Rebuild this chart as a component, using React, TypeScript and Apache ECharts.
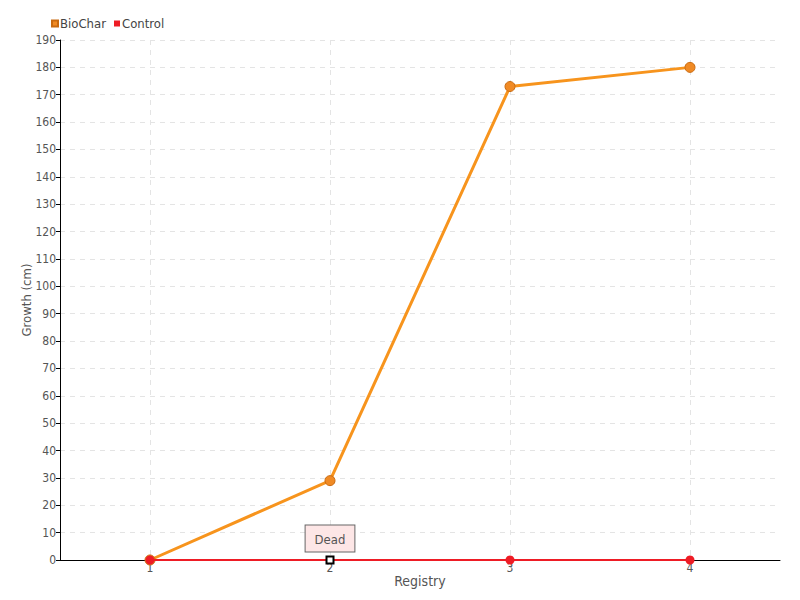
import React, { useEffect, useRef } from "react";
import * as echarts from "echarts";

const categories = ["1", "2", "3", "4"];
const bioCharValues = [0, 29, 173, 180];
const controlValues = [0, 0, 0, 0];
const seriesNames = ["BioChar", "Control"];
const deadIndex = 1;
const deadLabel = "Dead";

const FONT = "'DejaVu Sans Condensed', 'Liberation Sans Narrow', 'Roboto', sans-serif";

export default function App() {
  const ref = useRef<HTMLDivElement>(null);
  useEffect(() => {
    document.body.style.margin = "0";
    const chart = echarts.init(ref.current!, null, { renderer: "svg" });
    const controlData = controlValues.map((v, i) =>
      i === deadIndex
        ? {
            value: v,
            symbol: "rect",
            symbolSize: 7,
            itemStyle: { color: "#ffffff", borderColor: "#000000", borderWidth: 2 },
            label: {
              show: true,
              position: "top",
              distance: 4,
              formatter: deadLabel,
              color: "#555",
              fontSize: 13,
              fontFamily: FONT,
              backgroundColor: "#fde6e6",
              borderColor: "#666",
              borderWidth: 1,
              padding: [7, 9, 6, 9],
            },
          }
        : v
    );
    chart.setOption({
      animation: false,
      textStyle: { fontFamily: FONT },
      legend: {
        left: 46,
        top: 12,
        icon: "rect",
        itemWidth: 6,
        itemHeight: 6,
        itemGap: 8,
        textStyle: { fontSize: 13, color: "#444", fontFamily: FONT, padding: [0, 0, 0, -3] },
        data: seriesNames,
      },
      grid: { left: 60, right: 20, top: 40, bottom: 40, containLabel: false },
      xAxis: {
        type: "category",
        data: categories,
        boundaryGap: true,
        name: "Registry",
        nameLocation: "middle",
        nameGap: 14,
        nameMoveOverlap: false,
        nameTextStyle: { fontSize: 14, color: "#555", fontFamily: FONT },
        axisLine: { lineStyle: { color: "#000", width: 1 } },
        axisTick: { alignWithLabel: true, length: 5, lineStyle: { color: "#666" } },
        axisLabel: { margin: 2, fontSize: 12, color: "#555", fontFamily: FONT },
        splitLine: {
          show: true,
          alignWithLabel: true,
          lineStyle: { color: "#e4e4e4", type: [5, 5] },
        },
      },
      yAxis: {
        type: "value",
        min: 0,
        max: 190,
        interval: 10,
        name: "Growth (cm)",
        nameLocation: "middle",
        nameGap: 27,
        nameMoveOverlap: false,
        nameTextStyle: { fontSize: 13, color: "#555", fontFamily: FONT },
        axisLine: { show: true, lineStyle: { color: "#000", width: 1 } },
        axisTick: { show: true, length: 4, lineStyle: { color: "#000" } },
        axisLabel: { margin: 4, fontSize: 12, color: "#555", fontFamily: FONT },
        splitLine: { show: true, lineStyle: { color: "#e4e4e4", type: [5, 5] } },
      },
      series: [
        {
          name: seriesNames[0],
          type: "line",
          data: bioCharValues,
          symbol: "circle",
          symbolSize: 10,
          color: "#F7941D",
          lineStyle: { color: "#F7941D", width: 3 },
          itemStyle: { color: "#F08A24", borderColor: "#C96A10", borderWidth: 1 },
          z: 2,
        },
        {
          name: seriesNames[1],
          type: "line",
          data: controlData,
          symbol: "circle",
          symbolSize: 9,
          color: "#EE1C25",
          lineStyle: { color: "#EE1C25", width: 2 },
          itemStyle: { color: "#EE1C25" },
          z: 3,
        },
      ],
    });
    return () => chart.dispose();
  }, []);
  return (
    <div
      ref={ref}
      style={{ position: "fixed", left: 0, top: 0, width: 800, height: 600, background: "#fff" }}
    />
  );
}
